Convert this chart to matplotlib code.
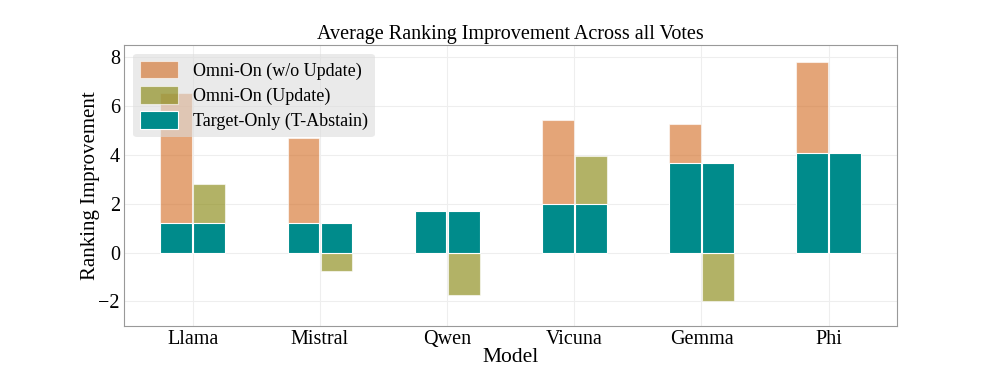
import matplotlib.pyplot as plt
import numpy as np

plt.rcParams['font.family'] = ['Liberation Serif', 'DejaVu Serif']

models = ['Llama', 'Mistral', 'Qwen', 'Vicuna', 'Gemma', 'Phi']
omni_wo_update = [6.52, 4.67, 1.72, 5.43, 5.25, 7.78]
omni_update = [2.82, -0.75, -1.74, 3.96, -1.99, 4.07]
target_only = [1.21, 1.2, 1.69, 2.0, 3.66, 4.07]

x = np.arange(len(models))
w = 0.25

fig = plt.figure(figsize=(9.97, 3.67), dpi=100)
ax = fig.add_axes([0.1245, 0.112, 0.7755, 0.766])

ax.bar(x - w / 2 - 0.005, omni_wo_update, w, color='chocolate', alpha=0.6,
       edgecolor='white', linewidth=0.8, label='Omni-On (w/o Update)', zorder=2)
ax.bar(x + w / 2 + 0.005, omni_update, w, color='olive', alpha=0.6,
       edgecolor='white', linewidth=0.8, label='Omni-On (Update)', zorder=2)
ax.bar(x - w / 2 - 0.005, target_only, w, color='darkcyan',
       edgecolor='white', linewidth=0.8, label='Target-Only (T-Abstain)', zorder=3)
ax.bar(x + w / 2 + 0.005, target_only, w, color='darkcyan',
       edgecolor='white', linewidth=0.8, zorder=3)

ax.set_xticks(x, models)
ax.set_xlim(-0.54, 5.54)
ax.set_ylim(-3, 8.5)
ax.set_yticks([-2, 0, 2, 4, 6, 8])
ax.set_yticklabels(['\u22122', '0', '2', '4', '6', '8'])
ax.tick_params(labelsize=14.5, length=0, pad=3)
ax.grid(True, color='#eeeeee', linewidth=0.8, zorder=0)
ax.set_axisbelow(True)
for s in ax.spines.values():
    s.set_color('#999999')

ax.set_title('Average Ranking Improvement Across all Votes', fontsize=14.5, pad=4)
ax.set_xlabel('Model', fontsize=15.5, labelpad=-1)
ax.set_ylabel('Ranking Improvement', fontsize=15, labelpad=-1)

leg = ax.legend(loc='upper left', fontsize=13, frameon=True, fancybox=True,
                handlelength=2.1, handleheight=1.1, borderaxespad=0.5,
                labelspacing=0.35)
leg.get_frame().set_facecolor('#dddddd')
leg.get_frame().set_edgecolor('none')
leg.get_frame().set_alpha(0.6)
leg.set_zorder(5)

fig.savefig('out.png', dpi=100)
